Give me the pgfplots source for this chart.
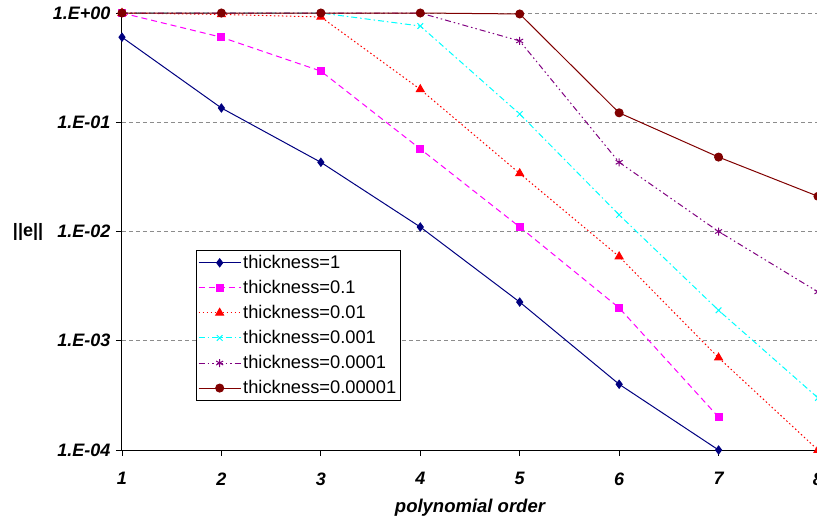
\documentclass[border=0pt]{standalone}
\usepackage{pgfplots}
\pgfplotsset{compat=1.18}
\usepackage{fontspec}
\setmainfont{Liberation Sans}
\definecolor{cnavy}{RGB}{0,0,128}
\definecolor{cmag}{RGB}{255,0,255}
\definecolor{cred}{RGB}{255,0,0}
\definecolor{ccyan}{RGB}{0,255,255}
\definecolor{cpurp}{RGB}{128,0,128}
\definecolor{cdred}{RGB}{128,0,0}
\begin{document}
\begin{tikzpicture}
\begin{axis}[
  width=696pt, height=437pt, scale only axis,
  ymode=log, xmin=1, xmax=8, ymin=1e-4, ymax=1,
  axis x line*=bottom, axis y line*=left,
  axis line style={black, line width=1pt, -},
  xtick={1,2,3,4,5,6,7,8}, xticklabels={1,2,3,4,5,6,7,8},
  ytick={1e-4,1e-3,1e-2,1e-1,1},
  yticklabels={1.E-04,1.E-03,1.E-02,1.E-01,1.E+00},
  yminorticks=false, xminorticks=false,
  tick align=outside, major tick length=6pt,
  tick style={black, line width=0.8pt},
  ymajorgrids, major grid style={color=black!45, dash pattern=on 4pt off 3pt, line width=0.9pt},
  ticklabel style={font=\fontsize{18}{20}\selectfont\bfseries\itshape},
  xticklabel style={yshift=-13pt},
  yticklabel style={xshift=-2pt},
  xlabel={polynomial order},
  xlabel style={font=\fontsize{18.5}{20}\selectfont\bfseries\itshape, at={(axis description cs:0.5,-0.131)}, anchor=center},
  ylabel={||e||},
  ylabel style={font=\fontsize{18}{20}\selectfont\bfseries, rotate=-90, at={(axis description cs:-0.135,0.5)}, anchor=center},
  clip=false,
  legend style={at={(rel axis cs:0.106,0.4577)}, anchor=north west,
    font=\fontsize{18.3}{20}\selectfont, draw=black, line width=0.8pt,
    row sep=6.3pt, inner xsep=2pt, inner ysep=3pt},
  legend cell align=left,
  legend image code/.code={\draw[mark repeat=2,mark phase=2] plot coordinates {(0pt,0pt) (21pt,0pt) (42pt,0pt)};},
  every axis plot/.append style={line width=1pt},
]
\addplot[color=cnavy, solid, mark=diamond*, mark size=4pt, mark options={solid}]
  coordinates {(1,0.60) (2,0.135) (3,0.043) (4,0.011) (5,0.00226) (6,0.0004) (7,0.0001)};
\addlegendentry{thickness=1}
\addplot[color=cmag, dash pattern=on 6pt off 4pt, mark=square*, mark size=3.5pt, mark options={solid}]
  coordinates {(1,1.0) (2,0.6) (3,0.294) (4,0.057) (5,0.011) (6,0.002) (7,0.0002)};
\addlegendentry{thickness=0.1}
\addplot[color=cred, dash pattern=on 1.5pt off 2.5pt, mark=triangle*, mark size=4.5pt, mark options={solid}]
  coordinates {(1,1.0) (2,0.97) (3,0.92) (4,0.20) (5,0.034) (6,0.0059) (7,0.0007) (8,0.0001)};
\addlegendentry{thickness=0.01}
\addplot[color=ccyan, dash pattern=on 6pt off 3pt on 1.5pt off 3pt, mark=x, mark size=4pt, mark options={solid}]
  coordinates {(1,1.0) (2,1.0) (3,1.0) (4,0.76) (5,0.119) (6,0.0142) (7,0.0019) (8,0.0003)};
\addlegendentry{thickness=0.001}
\addplot[color=cpurp, dash pattern=on 6pt off 3pt on 1.5pt off 3pt on 1.5pt off 3pt, mark=asterisk, mark size=4pt, mark options={solid}]
  coordinates {(1,1.0) (2,1.0) (3,1.0) (4,1.0) (5,0.555) (6,0.043) (7,0.010) (8,0.0028)};
\addlegendentry{thickness=0.0001}
\addplot[color=cdred, solid, mark=*, mark size=4pt, mark options={solid}]
  coordinates {(1,1.0) (2,1.0) (3,1.0) (4,1.0) (5,0.98) (6,0.122) (7,0.048) (8,0.021)};
\addlegendentry{thickness=0.00001}
\end{axis}
\pgfresetboundingbox
\path[use as bounding box] (-122pt,-70pt) rectangle (695pt,450pt);
\end{tikzpicture}
\end{document}
